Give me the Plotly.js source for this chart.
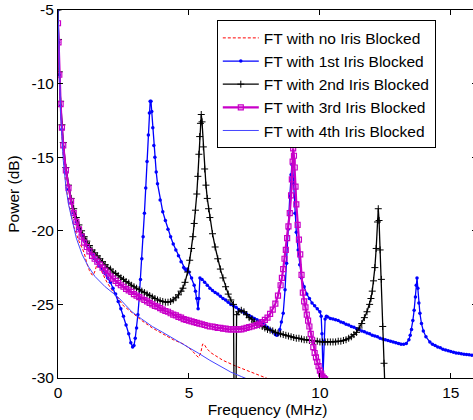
<!DOCTYPE html>
<html>
<head>
<meta charset="utf-8">
<script src="https://cdn.plot.ly/plotly-3.0.1.min.js"></script>
<style>
html,body{margin:0;padding:0;overflow:hidden;background:#fff;}
#chart{width:480px;height:420px;}
</style>
</head>
<body>
<div id="chart"></div>
<script>
// ---- Series names ----
var seriesNames = ["FT with no Iris Blocked","FT with 1st Iris Blocked","FT with 2nd Iris Blocked","FT with 3rd Iris Blocked","FT with 4th Iris Blocked"];

// ---- No iris blocked (red dashed) ----
var freqNone = [0,0.05,0.1,0.2,0.3,0.4,0.5,0.6,0.8,1.0,1.1,1.2,1.3,1.35,1.42,1.48,1.53,1.6,1.7,1.87,2.05,2.25,2.5,2.86,3.2,3.6,4.0,4.4,4.8,5.1,5.3,5.37,5.45,5.52,5.58,5.68,5.85,6.3,6.8,7.4,7.95,8.5];
var powNone  = [-6.5,-9.5,-11.8,-15.0,-16.9,-18.1,-19.0,-19.7,-20.7,-21.5,-22.2,-22.7,-23.0,-23.0,-22.7,-22.3,-22.2,-22.4,-22.9,-23.5,-24.0,-24.5,-25.1,-25.6,-26.1,-26.6,-27.0,-27.4,-27.7,-28.1,-28.5,-28.6,-28.3,-27.7,-27.7,-28.0,-28.3,-28.8,-29.2,-29.6,-30.0,-30.4];

// ---- 1st iris blocked (blue, dots) ----
var freq1st = [0,0.02,0.05,0.1,0.15,0.2,0.3,0.4,0.5,0.6,0.7,0.8,0.9,1.0,1.1,1.2,1.3,1.4,1.5,1.6,1.7,1.8,1.9,2.0,2.1,2.2,2.3,2.4,2.5,2.6,2.7,2.78,2.85,2.9,2.95,3.0,3.05,3.1,3.15,3.2,3.25,3.3,3.35,3.4,3.45,3.49,3.52,3.55,3.58,3.62,3.66,3.7,3.75,3.8,3.9,4.0,4.1,4.2,4.3,4.4,4.5,4.6,4.7,4.8,4.85,4.9,4.95,5.0,5.1,5.2,5.25,5.3,5.35,5.38,5.42,5.5,5.6,5.7,5.8,5.9,6.0,6.1,6.2,6.3,6.4,6.5,6.6,6.7,6.8,6.9,7.0,7.1,7.2,7.3,7.4,7.5,7.6,7.7,7.8,7.9,8.0,8.1,8.2,8.3,8.35,8.4,8.47,8.53,8.6,8.67,8.73,8.79,8.85,8.9,8.93,8.96,9.0,9.05,9.1,9.17,9.23,9.3,9.4,9.5,9.6,9.7,9.8,9.9,10.0,10.05,10.08,10.12,10.16,10.2,10.25,10.3,10.4,10.5,10.6,10.7,10.8,10.9,11.0,11.1,11.2,11.3,11.4,11.5,11.6,11.7,11.8,11.9,12.0,12.1,12.2,12.3,12.4,12.5,12.6,12.7,12.8,12.9,13.0,13.1,13.2,13.3,13.4,13.45,13.5,13.55,13.6,13.65,13.68,13.71,13.74,13.78,13.82,13.88,13.95,14.05,14.2,14.3,14.4,14.5,14.6,14.7,14.8,14.9,15.0,15.1,15.2,15.3,15.4,15.5,15.6,15.7,15.8,15.9,16.0];
var pow1st  = [-5.0,-7.2,-9.4,-11.5,-13.1,-14.3,-16.0,-17.2,-18.1,-18.8,-19.4,-19.9,-20.3,-20.7,-21.0,-21.3,-21.6,-21.9,-22.1,-22.4,-22.6,-22.9,-23.2,-23.5,-23.9,-24.3,-24.8,-25.3,-25.8,-26.4,-27.0,-27.6,-27.9,-27.8,-27.3,-26.6,-25.7,-24.6,-23.3,-21.9,-20.4,-18.8,-17.1,-15.3,-13.5,-12.0,-11.2,-11.2,-11.9,-13.0,-14.2,-15.0,-16.0,-16.8,-17.9,-18.7,-19.3,-19.9,-20.4,-20.9,-21.3,-21.7,-22.1,-22.5,-22.6,-22.7,-22.6,-22.8,-23.2,-23.7,-24.1,-24.6,-25.3,-24.6,-23.2,-23.3,-23.5,-23.7,-23.9,-24.05,-24.2,-24.3,-24.45,-24.6,-24.7,-24.85,-25.0,-25.1,-25.2,-25.35,-25.45,-25.55,-25.65,-25.75,-25.85,-25.95,-26.05,-26.15,-26.3,-26.4,-26.55,-26.7,-26.85,-27.05,-27.1,-27.05,-26.7,-26.2,-25.6,-24.0,-22.2,-19.9,-17.7,-16.2,-15.5,-15.6,-16.8,-18.8,-20.1,-21.3,-22.3,-23.2,-23.8,-24.3,-24.6,-24.9,-25.1,-25.3,-25.5,-25.8,-27.0,-29.8,-27.5,-26.0,-25.8,-25.85,-25.95,-26.0,-26.05,-26.1,-26.2,-26.25,-26.35,-26.4,-26.5,-26.55,-26.65,-26.7,-26.8,-26.85,-26.95,-27.0,-27.1,-27.15,-27.2,-27.3,-27.35,-27.4,-27.45,-27.5,-27.55,-27.6,-27.65,-27.7,-27.7,-27.65,-27.4,-27.1,-26.7,-26.1,-25.4,-24.5,-23.7,-23.2,-23.9,-24.9,-25.6,-26.3,-26.8,-27.2,-27.55,-27.7,-27.8,-27.9,-27.95,-28.05,-28.1,-28.15,-28.2,-28.25,-28.3,-28.32,-28.35,-28.38,-28.4,-28.42,-28.45,-28.47,-28.5];

// ---- 2nd iris blocked (black, plus) ----
var freq2nd = [0,0.02,0.05,0.1,0.15,0.2,0.3,0.4,0.5,0.6,0.7,0.8,0.9,1.0,1.1,1.2,1.3,1.4,1.5,1.6,1.7,1.8,1.9,2.0,2.1,2.2,2.3,2.4,2.5,2.6,2.7,2.8,2.9,3.0,3.1,3.2,3.3,3.4,3.5,3.6,3.7,3.8,3.9,4.0,4.1,4.2,4.3,4.4,4.5,4.6,4.7,4.77,4.85,4.95,5.03,5.1,5.15,5.2,5.25,5.3,5.34,5.38,5.41,5.44,5.47,5.5,5.55,5.6,5.65,5.7,5.75,5.8,5.9,6.0,6.1,6.2,6.3,6.4,6.5,6.6,6.7,6.73,6.79,6.82,6.9,7.0,7.1,7.2,7.3,7.4,7.5,7.6,7.7,7.8,7.9,8.0,8.1,8.2,8.3,8.4,8.5,8.6,8.7,8.8,8.9,9.0,9.1,9.2,9.3,9.4,9.5,9.6,9.7,9.8,9.9,10.0,10.1,10.2,10.3,10.4,10.5,10.6,10.7,10.8,10.9,11.0,11.1,11.2,11.3,11.4,11.5,11.6,11.7,11.8,11.9,11.95,12.0,12.05,12.1,12.15,12.2,12.23,12.26,12.3,12.35,12.4,12.45,12.5,12.55];
var pow2nd  = [-5.0,-7.0,-9.2,-11.2,-12.8,-14.0,-15.7,-16.9,-17.8,-18.5,-19.1,-19.6,-20.0,-20.4,-20.7,-21.0,-21.3,-21.5,-21.7,-21.9,-22.1,-22.3,-22.5,-22.6,-22.8,-22.9,-23.05,-23.2,-23.3,-23.45,-23.55,-23.7,-23.8,-23.9,-24.0,-24.1,-24.2,-24.3,-24.4,-24.5,-24.6,-24.7,-24.75,-24.8,-24.85,-24.85,-24.8,-24.7,-24.55,-24.35,-24.1,-23.9,-23.5,-22.8,-22.0,-21.2,-20.4,-19.5,-18.6,-17.5,-16.3,-14.8,-13.6,-12.7,-12.1,-12.6,-14.3,-15.8,-16.9,-17.8,-18.5,-19.1,-20.2,-21.1,-21.9,-22.6,-23.2,-23.8,-24.3,-24.7,-25.0,-33,-33,-25.7,-25.5,-25.4,-25.5,-25.7,-25.9,-26.0,-26.2,-26.3,-26.4,-26.5,-26.6,-26.7,-26.75,-26.8,-26.9,-26.95,-27.0,-27.05,-27.1,-27.15,-27.2,-27.25,-27.3,-27.3,-27.35,-27.4,-27.4,-27.45,-27.45,-27.5,-27.5,-27.55,-27.55,-27.55,-27.55,-27.55,-27.55,-27.55,-27.5,-27.5,-27.45,-27.4,-27.3,-27.2,-27.05,-26.9,-26.6,-26.3,-25.9,-25.5,-25.0,-24.6,-24.1,-23.4,-22.5,-21.2,-19.4,-18.5,-19.3,-21.3,-23.3,-26.5,-29.0,-31.5,-34];

// ---- 3rd iris blocked (magenta, squares) ----
var freq3rd = [0,0.02,0.05,0.1,0.15,0.2,0.3,0.4,0.5,0.6,0.7,0.8,0.9,1.0,1.1,1.2,1.3,1.4,1.5,1.6,1.7,1.8,1.9,2.0,2.1,2.2,2.3,2.4,2.5,2.6,2.7,2.8,2.9,3.0,3.1,3.2,3.3,3.4,3.5,3.6,3.7,3.8,3.9,4.0,4.1,4.2,4.3,4.4,4.5,4.6,4.7,4.8,4.9,5.0,5.1,5.2,5.3,5.4,5.5,5.6,5.7,5.8,5.9,6.0,6.1,6.2,6.3,6.4,6.5,6.6,6.7,6.8,6.9,7.0,7.1,7.2,7.3,7.4,7.5,7.6,7.7,7.8,7.9,8.0,8.1,8.2,8.3,8.4,8.5,8.55,8.6,8.65,8.7,8.75,8.8,8.85,8.9,8.93,8.96,8.98,9.01,9.04,9.07,9.1,9.15,9.2,9.25,9.3,9.35,9.4,9.45,9.5,9.55,9.6,9.65,9.7,9.75,9.8,9.85,9.9,9.95,10.0,10.05,10.1,10.15,10.2,10.25,10.3];
var pow3rd  = [-5.9,-7.2,-9.4,-11.4,-13.0,-14.2,-15.9,-17.1,-18.0,-18.8,-19.4,-19.9,-20.4,-20.8,-21.1,-21.4,-21.7,-21.9,-22.1,-22.3,-22.5,-22.7,-22.9,-23.1,-23.25,-23.4,-23.55,-23.7,-23.8,-23.95,-24.05,-24.15,-24.3,-24.4,-24.5,-24.6,-24.7,-24.8,-24.9,-25.0,-25.1,-25.15,-25.25,-25.35,-25.45,-25.5,-25.6,-25.7,-25.75,-25.85,-25.9,-26.0,-26.05,-26.1,-26.15,-26.2,-26.25,-26.3,-26.35,-26.4,-26.45,-26.5,-26.5,-26.55,-26.6,-26.6,-26.65,-26.65,-26.7,-26.7,-26.7,-26.7,-26.7,-26.7,-26.65,-26.6,-26.55,-26.5,-26.45,-26.4,-26.3,-26.2,-26.05,-25.9,-25.65,-25.35,-24.95,-24.4,-23.7,-23.2,-22.6,-21.9,-21.3,-20.5,-19.7,-18.8,-17.6,-16.5,-15.3,-14.4,-14.9,-15.7,-17.0,-18.2,-19.6,-20.6,-21.6,-23.0,-24.2,-24.8,-25.2,-25.7,-26.1,-26.5,-27.0,-27.4,-27.9,-28.3,-28.6,-28.9,-29.2,-29.5,-29.7,-29.9,-30.0,-30.1,-30.3,-30.5];

// ---- 4th iris blocked (light blue, thin line) ----
var freq4th = [0,0.05,0.1,0.2,0.3,0.4,0.53,0.7,0.92,1.15,1.41,1.8,2.29,2.6,2.82,3.2,3.6,4.0,4.5,5.0,5.35,5.8,6.2,6.6,7.0,7.8];
var pow4th  = [-5.0,-9.5,-12.0,-15.2,-17.0,-18.2,-19.3,-20.5,-21.6,-22.4,-23.1,-23.8,-24.5,-25.1,-25.5,-26.0,-26.5,-26.9,-27.4,-27.9,-28.3,-28.8,-29.2,-29.6,-29.9,-30.5];

// ---- Axis ticks ----
var xTickVals = [0,5,10,15];
var xTickText = ["0","5","10","15"];
var yTickVals = [-30,-25,-20,-15,-10,-5];
var yTickText = ["-30","-25","-20","-15","-10","-5"];

var FONT = 'Arial, "Liberation Sans", sans-serif';
var FS = 15.5;

var traces = [
  {x:freqNone, y:powNone, name:seriesNames[0], type:'scatter', mode:'lines',
   line:{color:'#ff0000', width:1, dash:'3px,2px'}},
  {x:freq1st, y:pow1st, name:seriesNames[1], type:'scatter', mode:'lines+markers',
   line:{color:'#0000ff', width:1.3}, marker:{symbol:'circle', size:3.5, color:'#0000ff'}},
  {x:freq2nd, y:pow2nd, name:seriesNames[2], type:'scatter', mode:'lines+markers',
   line:{color:'#000000', width:1.3}, marker:{symbol:'cross-thin-open', size:5, color:'#000000', line:{color:'#000000', width:1}}},
  {x:freq3rd, y:pow3rd, name:seriesNames[3], type:'scatter', mode:'lines+markers',
   line:{color:'#c800c8', width:2.2}, marker:{symbol:'square-open', size:5, color:'#c800c8', line:{color:'#c800c8', width:1.2}}},
  {x:freq4th, y:pow4th, name:seriesNames[4], type:'scatter', mode:'lines',
   line:{color:'#4444ff', width:1}}
];

var axisCommon = {
  showline:true, linecolor:'#000', linewidth:1, mirror:'allticks',
  ticks:'inside', ticklen:5, tickcolor:'#000', tickwidth:1,
  showgrid:false, zeroline:false, tickfont:{family:FONT, size:FS, color:'#000'}
};

var layout = {
  width:480, height:420,
  margin:{l:58, r:3, t:10, b:42},
  paper_bgcolor:'#fff', plot_bgcolor:'#fff',
  font:{family:FONT, size:FS, color:'#000'},
  showlegend:true,
  xaxis:Object.assign({}, axisCommon, {range:[0,16], tickmode:'array', tickvals:xTickVals, ticktext:xTickText,
    title:{text:'Frequency (MHz)', font:{family:FONT, size:FS, color:'#000'}, standoff:0}}),
  yaxis:Object.assign({}, axisCommon, {range:[-30,-5], tickmode:'array', tickvals:yTickVals, ticktext:yTickText,
    title:{text:'Power (dB)', font:{family:FONT, size:FS, color:'#000'}, standoff:8}}),
  legend:{x:0.379, y:0.972, xanchor:'left', yanchor:'top', bgcolor:'#fff', bordercolor:'#000', borderwidth:1,
    font:{family:FONT, size:FS, color:'#000'}, tracegroupgap:0, itemwidth:36}
};

Plotly.newPlot('chart', traces, layout, {staticPlot:true, displayModeBar:false});
</script>
</body>
</html>
